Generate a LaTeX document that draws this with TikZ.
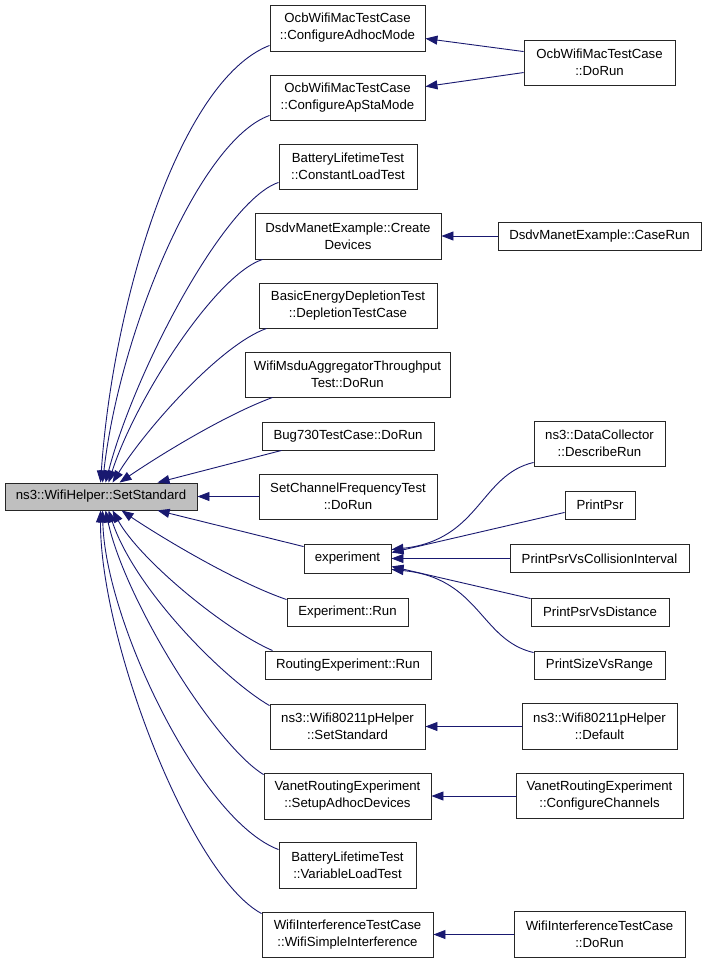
\documentclass[tikz,border=0pt]{standalone}
\usepackage{fontspec}
\setmainfont{Liberation Sans}
\usetikzlibrary{arrows.meta,calc}
\definecolor{edgeblue}{HTML}{191970}
\definecolor{rootfill}{HTML}{BFBFBF}
\begin{document}
\begin{tikzpicture}[x=1pt,y=-1pt,
  box/.style={draw=black!85, line width=0.9pt, fill=white, inner sep=0pt, align=center,
    font=\fontsize{13.2}{17}\selectfont},
  rootbox/.style={box, fill=rootfill},
  edge/.style={draw=edgeblue, line width=0.9pt, {Triangle[length=12pt,width=9pt]}-}]
\useasboundingbox (0,0) rectangle (707,963);
% root
\node[rootbox, minimum width=192, minimum height=27] (root) at (101,496.5) {ns3::WifiHelper::SetStandard};
% column 2
\node[box, minimum width=155, minimum height=46] (a1) at (347.5,28) {OcbWifiMacTestCase\\::ConfigureAdhocMode};
\node[box, minimum width=155, minimum height=45] (a2) at (347.5,97.5) {OcbWifiMacTestCase\\::ConfigureApStaMode};
\node[box, minimum width=138, minimum height=45] (a3) at (348,166.5) {BatteryLifetimeTest\\::ConstantLoadTest};
\node[box, minimum width=186, minimum height=46] (a4) at (348,236) {DsdvManetExample::Create\\Devices};
\node[box, minimum width=178, minimum height=45] (a5) at (348,305.5) {BasicEnergyDepletionTest\\::DepletionTestCase};
\node[box, minimum width=205, minimum height=45] (a6) at (347.5,374.5) {WifiMsduAggregatorThroughput\\Test::DoRun};
\node[box, minimum width=172, minimum height=28] (a7) at (348,436) {Bug730TestCase::DoRun};
\node[box, minimum width=178, minimum height=45] (a8) at (348,496.5) {SetChannelFrequencyTest\\::DoRun};
\node[box, minimum width=87, minimum height=29] (a9) at (347.5,558.5) {experiment};
\node[box, minimum width=121, minimum height=28] (a10) at (347.5,612) {Experiment::Run};
\node[box, minimum width=166, minimum height=28] (a11) at (348,665) {RoutingExperiment::Run};
\node[box, minimum width=155, minimum height=45] (a12) at (347.5,726.5) {ns3::Wifi80211pHelper\\::SetStandard};
\node[box, minimum width=167, minimum height=46] (a13) at (347.5,796) {VanetRoutingExperiment\\::SetupAdhocDevices};
\node[box, minimum width=137, minimum height=46] (a14) at (347.5,865) {BatteryLifetimeTest\\::VariableLoadTest};
\node[box, minimum width=171, minimum height=45] (a15) at (347.5,934.5) {WifiInterferenceTestCase\\::WifiSimpleInterference};
% column 3
\node[box, minimum width=151, minimum height=45] (b1) at (599.5,62.5) {OcbWifiMacTestCase\\::DoRun};
\node[box, minimum width=203, minimum height=28] (b2) at (599.5,236) {DsdvManetExample::CaseRun};
\node[box, minimum width=131, minimum height=45] (b3) at (599.5,443.5) {ns3::DataCollector\\::DescribeRun};
\node[box, minimum width=70, minimum height=28] (b4) at (600,505) {PrintPsr};
\node[box, minimum width=179, minimum height=28] (b5) at (599.5,558.5) {PrintPsrVsCollisionInterval};
\node[box, minimum width=138, minimum height=28] (b6) at (600,612) {PrintPsrVsDistance};
\node[box, minimum width=131, minimum height=28] (b7) at (599.5,665) {PrintSizeVsRange};
\node[box, minimum width=155, minimum height=46] (b8) at (599.5,726.5) {ns3::Wifi80211pHelper\\::Default};
\node[box, minimum width=167, minimum height=45] (b9) at (599.5,796) {VanetRoutingExperiment\\::ConfigureChannels};
\node[box, minimum width=171, minimum height=46] (b10) at (599.5,934.5) {WifiInterferenceTestCase\\::DoRun};
% edges into root (top)
\draw[edge] ($(root.north west)+(96,0)$) .. controls (113,300) and (180,80) .. ($(a1.south west)+(0,-6)$);
\draw[edge] ($(root.north west)+(98,0)$) .. controls (120,330) and (200,140) .. ($(a2.south west)+(0,-5)$);
\draw[edge] ($(root.north west)+(101,0)$) .. controls (135,370) and (225,200) .. ($(a3.south west)+(0,-7)$);
\draw[edge] ($(root.north west)+(104,0)$) .. controls (135,400) and (215,275) .. ($(a4.south west)+(8,0)$);
\draw[edge] ($(root.north west)+(108,0)$) .. controls (145,430) and (220,345) .. ($(a5.south west)+(8,0)$);
\draw[edge] ($(root.north west)+(115,0)$) .. controls (160,455) and (225,415) .. ($(a6.south west)+(28,0)$);
\draw[edge] ($(root.north west)+(153,0)$) -- ($(a7.south west)+(20,0)$);
\draw[edge] (root.east) -- (a8.west);
% edges into root (bottom)
\draw[edge] ($(root.south west)+(153,0)$) -- ($(a9.north west)+(0,3)$);
\draw[edge] ($(root.south west)+(117,0)$) .. controls (150,530) and (230,580) .. ($(a10.north west)+(0,2)$);
\draw[edge] ($(root.south west)+(108,0)$) .. controls (140,560) and (225,630) .. ($(a11.north west)+(8,0)$);
\draw[edge] ($(root.south west)+(104,0)$) .. controls (135,590) and (225,680) .. ($(a12.north west)+(0,2)$);
\draw[edge] ($(root.south west)+(101,0)$) .. controls (125,600) and (215,745) .. ($(a13.north west)+(0,2)$);
\draw[edge] ($(root.south west)+(98,0)$) .. controls (105,620) and (200,820) .. ($(a14.north west)+(0,8)$);
\draw[edge] ($(root.south west)+(96,0)$) .. controls (100,640) and (190,875) .. ($(a15.north west)+(0,2)$);
% column 3 edges
\draw[edge] ($(a1.north east)+(0,34)$) -- ($(b1.north west)+(0,12)$);
\draw[edge] ($(a2.north east)+(0,12)$) -- ($(b1.north west)+(0,33)$);
\draw[edge] (a4.east) -- (b2.west);
\draw[edge] ($(a9.north east)+(0,6)$) .. controls (480,540) and (480,475) .. ($(b3.south west)+(0,-4)$);
\draw[edge] ($(a9.north east)+(0,9)$) -- ($(b4.south west)+(0,-7)$);
\draw[edge] (a9.east) -- (b5.west);
\draw[edge] ($(a9.south east)+(0,-7)$) -- ($(b6.north west)+(0,1)$);
\draw[edge] ($(a9.south east)+(0,-4)$) .. controls (480,578) and (480,640) .. ($(b7.north west)+(0,2)$);
\draw[edge] (a12.east) -- (b8.west);
\draw[edge] (a13.east) -- (b9.west);
\draw[edge] (a15.east) -- (b10.west);
\end{tikzpicture}
\end{document}
